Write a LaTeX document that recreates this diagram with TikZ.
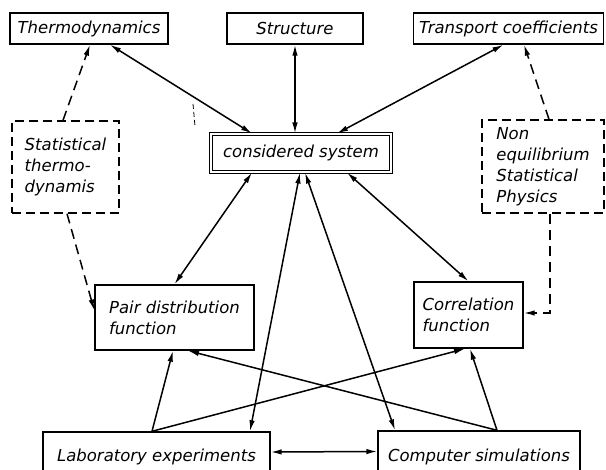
\documentclass[tikz,border=0pt]{standalone}
\usepackage{fontspec}
\setmainfont{DejaVu Sans}
\usetikzlibrary{arrows.meta}
\begin{document}
\begin{tikzpicture}[x=1pt,y=-1pt,
  box/.style={draw, line width=1.4pt, inner sep=0pt, align=left,
    font=\fontsize{16.5}{21}\selectfont\itshape},
  dbox/.style={box, dash pattern=on 9pt off 5pt},
  dblbox/.style={box, double, line width=1.1pt, double distance=1.6pt},
  arr/.style={line width=1.5pt, {Latex[length=11pt,width=5.5pt]}-{Latex[length=11pt,width=5.5pt]}},
  sarr/.style={line width=1.5pt, -{Latex[length=11pt,width=5.5pt]}},
  darr/.style={line width=1.5pt, dash pattern=on 10pt off 6pt, -{Latex[length=11pt,width=5.5pt]}}
]
\useasboundingbox (0,0) rectangle (606,470);
\clip (0,0) rectangle (606,470);

\node[box, minimum width=158pt, minimum height=31pt] (thermo) at (89,28.5) {Thermodynamics};
\node[box, minimum width=136pt, minimum height=31pt] (structure) at (295,28.5) {Structure};
\node[box, minimum width=190pt, minimum height=31pt] (transport) at (508.5,28.5) {Transport coefficients};
\node[dblbox, minimum width=180pt, minimum height=38pt] (cons) at (301,153) {considered system};
\node[dbox, minimum width=107pt, minimum height=92pt] (stat) at (65.5,167) {Statistical\\thermo-\\dynamis};
\node[dbox, minimum width=122pt, minimum height=93pt] (non) at (543,166.5) {Non\\equilibrium\\Statistical\\Physics};
\node[box, minimum width=159pt, minimum height=65pt] (pair) at (174.5,317.5) {Pair distribution\\function};
\node[box, minimum width=109pt, minimum height=66pt] (corr) at (468.5,315) {Correlation\\function};
\node[box, minimum width=227pt, minimum height=50pt] (lab) at (156.5,457) {Laboratory experiments};
\node[box, minimum width=202pt, minimum height=51pt] (comp) at (479,456.5) {Computer simulations};

% dashed connectors
\draw[darr] ([xshift=-2.5pt]stat.north) -- ([xshift=1pt]thermo.south);
\draw[darr] ([xshift=1.5pt]stat.south) -- ([yshift=7pt]pair.west);
\draw[darr] ([xshift=6pt]non.north) -- ([xshift=15.5pt]transport.south);
\draw[darr] ([xshift=7pt]non.south) |- ([yshift=2pt]corr.east);

% solid connectors
\draw[arr] ([xshift=21pt]thermo.south) -- ([xshift=-49pt]cons.north);
\draw[arr] (structure.south) -- (structure.south |- cons.north);
\draw[arr] ([xshift=-5pt]transport.south) -- ([xshift=36pt]cons.north);
\draw[arr] ([xshift=-49pt]cons.south) -- (pair.north);
\draw[arr] ([xshift=-1pt]cons.south) -- ([xshift=93.5pt]lab.north);
\draw[arr] ([xshift=4pt]cons.south) -- ([xshift=-84pt]comp.north);
\draw[arr] ([xshift=46pt]cons.south) -- (corr.north);
\draw[sarr] ([xshift=-4.5pt]lab.north) -- ([xshift=-1.5pt]pair.south);
\draw[sarr] ([xshift=-4.5pt]lab.north) -- ([xshift=-3.5pt]corr.south);
\draw[sarr] ([xshift=18pt]comp.north) -- ([xshift=13.5pt]pair.south);
\draw[sarr] ([xshift=18pt]comp.north) -- ([xshift=1.5pt]corr.south);
\draw[arr] ([yshift=5pt]lab.east) -- ([yshift=5pt]comp.west);

% small stray mark
\coordinate (m1) at (193,104);
\coordinate (m2) at (195,126);
\draw[line width=0.8pt, dash pattern=on 5pt off 3pt] (m1) -- (m2);
\end{tikzpicture}
\end{document}
